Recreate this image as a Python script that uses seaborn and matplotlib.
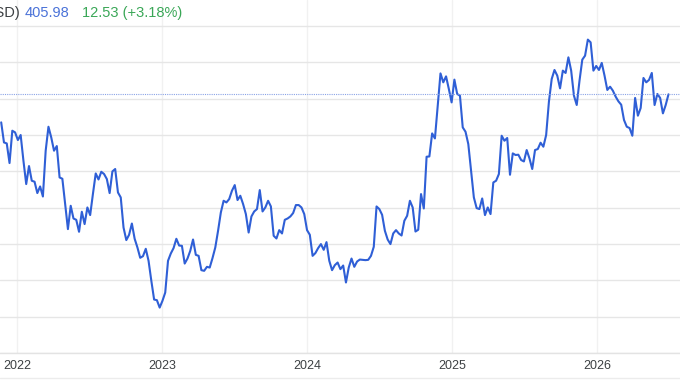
import seaborn as sns
import pandas as pd
import matplotlib.pyplot as plt
from matplotlib.lines import Line2D

# weekly closes
prices = [
    367.4, 339.8, 338.4, 311.4, 355.9, 353.6, 343.1, 350.0, 314.6, 282.5,
    307.3, 287.1, 285.7, 270.1, 279.2, 265.4, 328.4, 361.4, 346.7, 328.4,
    334.8, 291.6, 289.8, 255.0, 220.5, 252.6, 235.1, 233.3, 216.8, 244.4,
    227.4, 250.3, 239.8, 269.1, 297.1, 288.8, 299.4, 296.3, 289.4, 270.1,
    299.9, 303.2, 270.9, 264.1, 222.7, 205.4, 212.7, 228.2, 207.2, 195.2,
    181.0, 183.3, 193.4, 176.9, 149.3, 123.6, 122.7, 112.5, 121.8, 133.2,
    176.9, 186.9, 194.4, 207.2, 197.9, 197.5, 173.1, 180.0, 190.6, 206.2,
    185.1, 183.7, 164.0, 163.1, 168.6, 167.6, 180.6, 195.2, 218.2, 243.4,
    259.5, 257.2, 261.8, 273.3, 281.1, 260.5, 266.4, 255.0, 241.2, 215.8,
    237.9, 244.8, 248.1, 274.2, 244.8, 250.3, 259.5, 251.7, 211.3, 207.6,
    219.1, 214.5, 233.3, 235.1, 237.9, 242.6, 253.6, 253.6, 250.3, 241.2,
    219.1, 212.7, 183.7, 187.5, 194.4, 199.9, 192.0, 202.6, 176.9, 164.0,
    170.9, 174.5, 165.4, 170.4, 147.0, 167.6, 180.0, 168.6, 175.9, 178.6,
    178.2, 177.8, 178.2, 183.7, 196.1, 251.7, 248.1, 240.2, 218.2, 206.2,
    199.9, 214.5, 219.1, 214.5, 211.7, 232.0, 238.8, 259.5, 250.3, 217.2,
    219.6, 268.7, 248.9, 320.1, 320.5, 352.2, 345.3, 390.4, 434.8, 422.5,
    430.7, 413.4, 394.9, 426.2, 406.5, 404.1, 360.5, 354.5, 337.6, 300.8,
    264.1, 249.4, 248.1, 262.7, 239.8, 250.3, 241.2, 284.7, 287.1, 296.3,
    349.0, 342.1, 345.9, 295.3, 324.7, 322.5, 322.9, 315.6, 313.6, 329.3,
    317.8, 303.2, 329.3, 330.7, 339.4, 333.9, 350.0, 395.9, 427.1, 439.5,
    431.7, 414.2, 438.6, 435.4, 456.9, 438.6, 404.1, 391.3, 424.8, 453.7,
    459.2, 481.3, 477.5, 438.6, 445.0, 439.5, 449.2, 431.7, 412.0, 416.5,
    411.0, 402.8, 396.3, 391.7, 370.7, 361.4, 359.6, 349.0, 401.0, 376.6,
    387.2, 428.5, 422.5, 425.8, 435.4, 391.3, 406.5, 401.0, 379.8, 391.3,
    405.98,
]
dates = pd.date_range('2021-11-22', periods=len(prices), freq='7D')
years = ['2022', '2023', '2024', '2025', '2026']
last_price = 405.98
change = '12.53 (+3.18%)'

df = pd.DataFrame({'date': dates, 'price': prices})

sns.set_theme(style='whitegrid')
plt.rcParams['font.family'] = ['Liberation Sans', 'DejaVu Sans']

fig = plt.figure(figsize=(6.8, 3.82), dpi=100)
ax = fig.add_axes([0, 0.0759, 1, 0.9241])

sns.lineplot(data=df, x='date', y='price', ax=ax, color='#2f5fd6', lw=1.5)
ax.axhline(last_price, color='#8aa3e6', lw=0.8, ls=(0, (1, 1)))

ax.set_xlim(pd.Timestamp('2021-11-19'), pd.Timestamp('2026-07-28'))
ax.set_ylim(50, 535.8)
ax.set_yticks(range(50, 501, 50))
ax.set_yticklabels([])
ax.set_xticks([pd.Timestamp(y + '-01-01') for y in years])
ax.set_xticklabels(years, fontsize=9, color='#3c4043')
ax.tick_params(axis='x', length=0, pad=5)
ax.tick_params(axis='y', length=0)
ax.set_xlabel('')
ax.set_ylabel('')
ax.grid(axis='y', color='#e6e6e6', lw=1)
ax.grid(axis='x', color='#f1f1f1', lw=1)
ax.set_facecolor('white')
for s in ['top', 'left', 'right']:
    ax.spines[s].set_visible(False)
ax.spines['bottom'].set_color('#e3e3e3')
ax.spines['bottom'].set_linewidth(1)

# header text, cut off on the left like the source
fig.text(20 / 680, 0.966, '(USD)', ha='right', va='center', fontsize=10.5, color='#3c4043')
fig.text(25 / 680, 0.966, f'{last_price:.2f}', ha='left', va='center', fontsize=10.5, color='#4a72d8')
fig.text(82 / 680, 0.966, change, ha='left', va='center', fontsize=10.5, color='#3aa757')

fig.add_artist(Line2D([0, 1], [1 - 378 / 382] * 2, color='#ececec', lw=1))

fig.savefig('out.png', dpi=100)
